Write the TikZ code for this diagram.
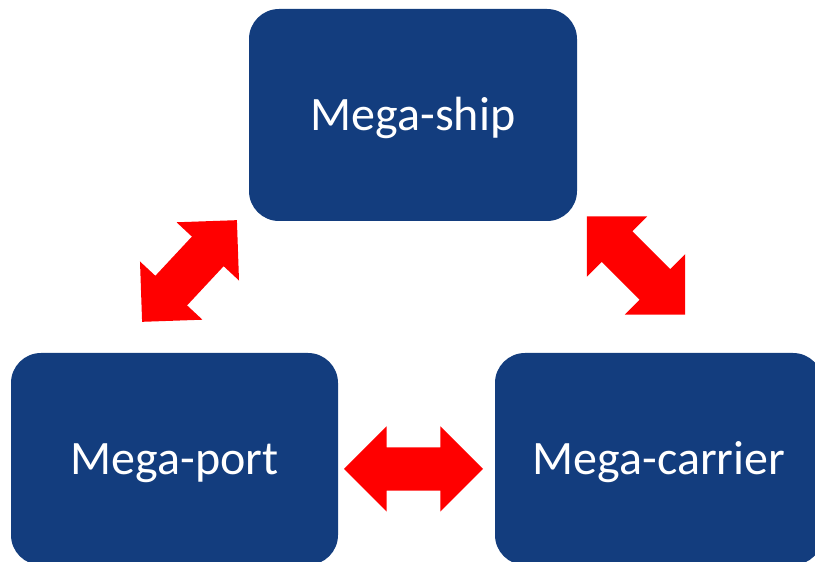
\documentclass[tikz,border=0pt]{standalone}
\usepackage{fontspec}
\setmainfont{Carlito}
\usepackage{xcolor}
\usepackage{tikz}
\usetikzlibrary{shapes,arrows,positioning}
\definecolor{deepblue}{RGB}{19, 61, 126}
\definecolor{hot}{RGB}{255, 0, 0}
\tikzstyle{block} = [rectangle, fill=deepblue, text=white, rounded corners=30pt, minimum width=328pt, minimum height=212pt, inner sep=0pt, text height=31pt, text depth=0pt, font=\fontsize{48}{56}\selectfont]
\tikzstyle{twoway} = [double arrow, fill=hot, draw=none, inner xsep=0pt, inner ysep=21.5pt, minimum height=139pt, double arrow head extend=21pt, double arrow tip angle=90]

\begin{document}
\begin{tikzpicture}[x=1pt, y=1pt]
    \useasboundingbox (0,0) rectangle (815,562);
    \node [block] (ship) at (413,447) {Mega-ship};
    \node [block, minimum width=327pt] (port) at (174.5,103) {Mega-port};
    \node [block] (carrier) at (659,103) {Mega-carrier};

    \node [twoway, rotate=47] (shipport) at (189.5,291) {};
    \node [twoway, rotate=-45] (shipcarrier) at (636,296.5) {};
    \node [twoway] (portcarrier) at (413.5,93) {};
\end{tikzpicture}
\end{document}
